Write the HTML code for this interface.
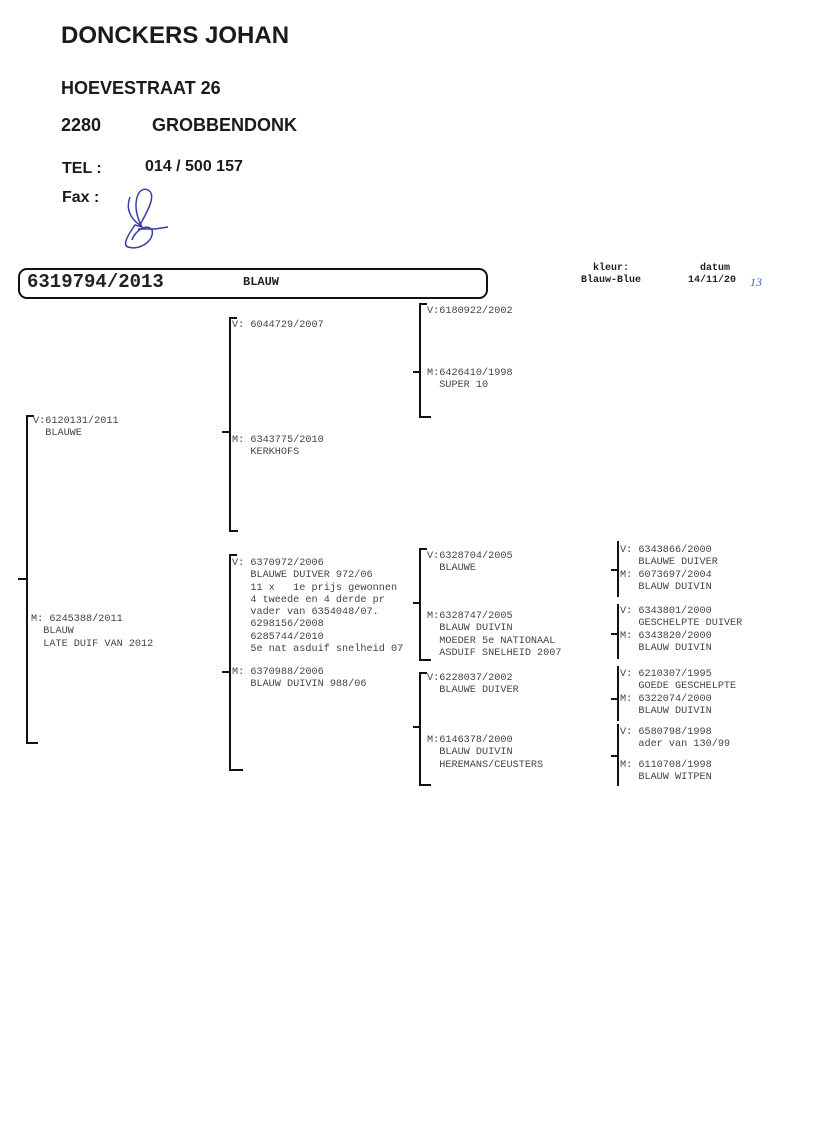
<!DOCTYPE html>
<html><head><meta charset="utf-8"><style>
body{margin:0;width:816px;height:1129px;background:#fff;position:relative;overflow:hidden}
.h{position:absolute;font-family:"Liberation Sans",sans-serif;font-weight:bold;color:#1a1a1a;white-space:pre}
.t{position:absolute;font-family:"Liberation Mono",monospace;font-size:10.2px;line-height:12.3px;color:#444;white-space:pre}
.l{position:absolute;background:#111}
</style></head><body>
<div class="h" style="left:61px;top:22px;font-size:24px">DONCKERS JOHAN</div>
<div class="h" style="left:61px;top:78px;font-size:18px">HOEVESTRAAT 26</div>
<div class="h" style="left:61px;top:115px;font-size:18px">2280</div>
<div class="h" style="left:152px;top:115px;font-size:18px">GROBBENDONK</div>
<div class="h" style="left:62px;top:160px;font-size:16px">TEL :</div>
<div class="h" style="left:145px;top:158px;font-size:16px">014 / 500 157</div>
<div class="h" style="left:62px;top:189px;font-size:16px">Fax :</div>
<svg style="position:absolute;left:110px;top:185px" width="80" height="70"><path d="M20 12 C15 25,22 35,30 40 C35 30,48 10,38 5 C28 0,20 20,32 42 L25 40 C18 50,12 60,18 62 C30 66,45 55,42 45 C38 38,25 45,22 55 M28 44 L45 44 L58 42" fill="none" stroke="#3a3aa8" stroke-width="1.5"/></svg>

<div style="position:absolute;left:18px;top:268px;width:466px;height:27px;border:2px solid #111;border-radius:9px"></div>
<div class="t" style="left:27px;top:272px;font-size:19px;line-height:20px;font-weight:bold;color:#222">6319794/2013</div>
<div class="t" style="left:243px;top:275px;font-size:12px;line-height:14px;font-weight:bold;color:#222">BLAUW</div>
<div class="t" style="left:581px;top:263px;font-size:10px;font-weight:bold;color:#222">  kleur:
Blauw-Blue</div>
<div class="t" style="left:688px;top:263px;font-size:10px;font-weight:bold;color:#222">  datum
14/11/20</div>
<div class="t" style="left:750px;top:276px;font-size:12px;color:#4a5ad0;font-family:'Liberation Serif',serif;font-style:italic">13</div>

<!-- gen1 -->
<div class="l" style="left:26px;top:415px;width:2px;height:329px"></div>
<div class="l" style="left:26px;top:415px;width:8px;height:2px"></div>
<div class="l" style="left:26px;top:742px;width:12px;height:2px"></div>
<div class="l" style="left:18px;top:578px;width:9px;height:2px"></div>
<div class="t" style="left:33px;top:416px">V:6120131/2011
  BLAUWE</div>
<div class="t" style="left:31px;top:614px">M: 6245388/2011
  BLAUW
  LATE DUIF VAN 2012</div>

<!-- gen2 -->
<div class="l" style="left:229px;top:317px;width:2px;height:215px"></div>
<div class="l" style="left:229px;top:317px;width:8px;height:2px"></div>
<div class="l" style="left:229px;top:530px;width:9px;height:2px"></div>
<div class="l" style="left:222px;top:431px;width:8px;height:2px"></div>
<div class="t" style="left:232px;top:320px">V: 6044729/2007</div>
<div class="t" style="left:232px;top:435px">M: 6343775/2010
   KERKHOFS</div>

<div class="l" style="left:229px;top:554px;width:2px;height:217px"></div>
<div class="l" style="left:229px;top:554px;width:8px;height:2px"></div>
<div class="l" style="left:229px;top:769px;width:14px;height:2px"></div>
<div class="l" style="left:222px;top:671px;width:8px;height:2px"></div>
<div class="t" style="left:232px;top:558px">V: 6370972/2006
   BLAUWE DUIVER 972/06
   11 x   1e prijs gewonnen
   4 tweede en 4 derde pr
   vader van 6354048/07.
   6298156/2008
   6285744/2010
   5e nat asduif snelheid 07</div>
<div class="t" style="left:232px;top:667px">M: 6370988/2006
   BLAUW DUIVIN 988/06</div>

<!-- gen3 -->
<div class="l" style="left:419px;top:303px;width:2px;height:115px"></div>
<div class="l" style="left:419px;top:303px;width:8px;height:2px"></div>
<div class="l" style="left:419px;top:416px;width:12px;height:2px"></div>
<div class="l" style="left:413px;top:371px;width:7px;height:2px"></div>
<div class="t" style="left:427px;top:306px">V:6180922/2002</div>
<div class="t" style="left:427px;top:368px">M:6426410/1998
  SUPER 10</div>

<div class="l" style="left:419px;top:548px;width:2px;height:113px"></div>
<div class="l" style="left:419px;top:548px;width:8px;height:2px"></div>
<div class="l" style="left:419px;top:659px;width:12px;height:2px"></div>
<div class="l" style="left:413px;top:602px;width:7px;height:2px"></div>
<div class="t" style="left:427px;top:551px">V:6328704/2005
  BLAUWE</div>
<div class="t" style="left:427px;top:611px">M:6328747/2005
  BLAUW DUIVIN
  MOEDER 5e NATIONAAL
  ASDUIF SNELHEID 2007</div>

<div class="l" style="left:419px;top:672px;width:2px;height:114px"></div>
<div class="l" style="left:419px;top:672px;width:8px;height:2px"></div>
<div class="l" style="left:419px;top:784px;width:12px;height:2px"></div>
<div class="l" style="left:413px;top:726px;width:7px;height:2px"></div>
<div class="t" style="left:427px;top:673px">V:6228037/2002
  BLAUWE DUIVER</div>
<div class="t" style="left:427px;top:735px">M:6146378/2000
  BLAUW DUIVIN
  HEREMANS/CEUSTERS</div>

<!-- gen4 -->
<div class="l" style="left:617px;top:541px;width:2px;height:56px"></div>
<div class="l" style="left:611px;top:569px;width:7px;height:2px"></div>
<div class="t" style="left:620px;top:545px">V: 6343866/2000
   BLAUWE DUIVER
M: 6073697/2004
   BLAUW DUIVIN</div>
<div class="l" style="left:617px;top:604px;width:2px;height:55px"></div>
<div class="l" style="left:611px;top:633px;width:7px;height:2px"></div>
<div class="t" style="left:620px;top:606px">V: 6343801/2000
   GESCHELPTE DUIVER
M: 6343820/2000
   BLAUW DUIVIN</div>
<div class="l" style="left:617px;top:666px;width:2px;height:55px"></div>
<div class="l" style="left:611px;top:698px;width:7px;height:2px"></div>
<div class="t" style="left:620px;top:669px">V: 6210307/1995
   GOEDE GESCHELPTE
M: 6322074/2000
   BLAUW DUIVIN</div>
<div class="l" style="left:617px;top:724px;width:2px;height:62px"></div>
<div class="l" style="left:611px;top:755px;width:7px;height:2px"></div>
<div class="t" style="left:620px;top:727px">V: 6580798/1998
   ader van 130/99</div>
<div class="t" style="left:620px;top:760px">M: 6110708/1998
   BLAUW WITPEN</div>
</body></html>
